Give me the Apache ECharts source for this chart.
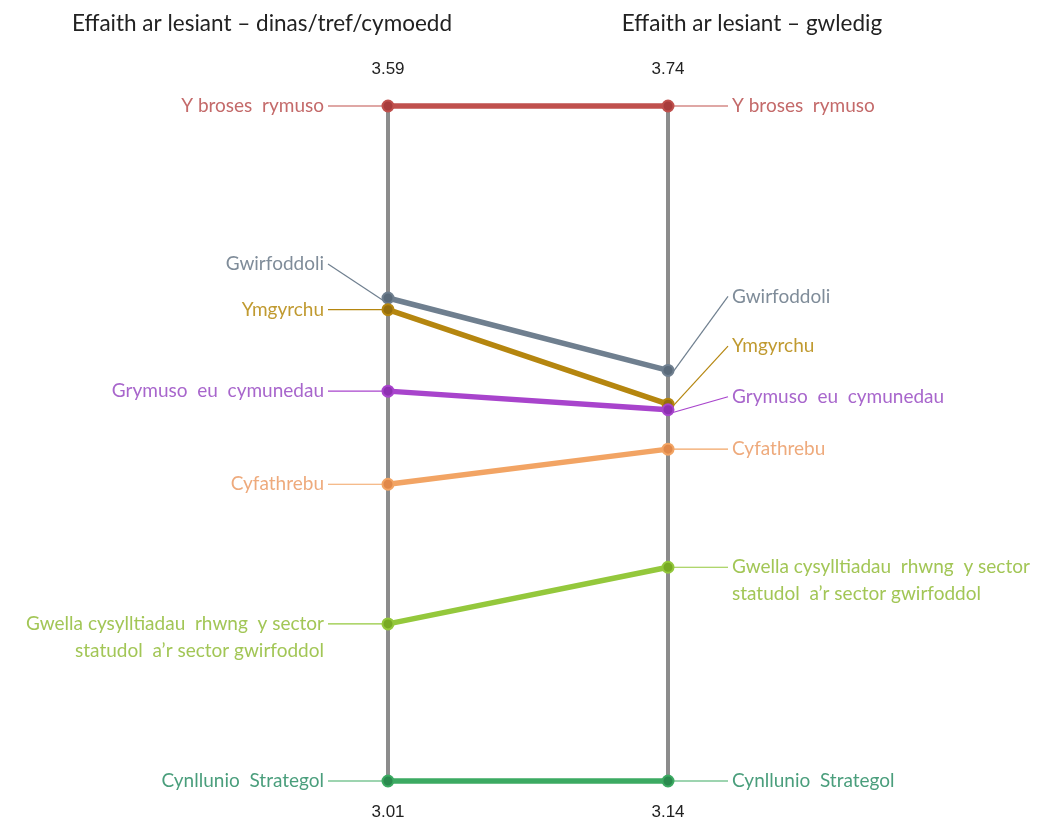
<!DOCTYPE html>
<html>
<head>
<meta charset="utf-8">
<script src="https://cdn.jsdelivr.net/npm/echarts@6/dist/echarts.min.js"></script>
<style>
html,body{margin:0;padding:0;background:#ffffff;}
#main{width:1038px;height:823px;}
</style>
</head>
<body>
<div id="main"></div>
<script>
// ---- data ----
const categories = [
  'Y broses  rymuso',
  'Gwirfoddoli',
  'Ymgyrchu',
  'Grymuso  eu  cymunedau',
  'Cyfathrebu',
  'Gwella cysylltiadau  rhwng  y sector\nstatudol  a\u2019r sector gwirfoddol',
  'Cynllunio  Strategol'
];
const urbanValues = [3.59, 3.425, 3.415, 3.345, 3.265, 3.145, 3.01];
const ruralValues = [3.74, 3.505, 3.475, 3.47, 3.435, 3.33, 3.14];
const axisTitles = ['Effaith ar lesiant \u2013 dinas/tref/cymoedd', 'Effaith ar lesiant \u2013 gwledig'];
const urbanTicks = [3.01, 3.59];
const ruralTicks = [3.14, 3.74];

// ---- styles ----
const lineColors  = ['#c0504d', '#6f7f8f', '#b5860f', '#a844cc', '#f2a464', '#94c83c', '#3caa62'];
const dotColors   = ['#a83c3c', '#5a6a7a', '#956e0c', '#8e30b2', '#e0884a', '#78aa24', '#2a8a4e'];
const labelColors = ['#c46a6a', '#7f8c99', '#c09a30', '#a866cc', '#eeaa7c', '#a2c656', '#4a9e7c'];
const leftLabelDy  = [0, -34, 0, 0, 0, 0, 0];
const rightLabelDy = [0, -74, -58, -13, 0, 0, 0];
const LABEL_FONT = 'Lato, "Open Sans", sans-serif';
const LABEL_SIZE = 19;
const LH = 27;

const chart = echarts.init(document.getElementById('main'));

function yAxisCfg(ticks, pos) {
  const fmt = (v) => v.toFixed(2);
  const numStyle = { color: '#222', fontSize: 17, fontFamily: '"Liberation Sans", Arial, sans-serif' };
  return {
    type: 'value', min: ticks[0], max: ticks[1], position: pos,
    axisLine: { show: true, onZero: false, lineStyle: { color: '#8c8c8c', width: 4 } },
    axisTick: { show: false },
    splitLine: { show: false },
    axisLabel: {
      customValues: ticks,
      margin: 0,
      align: 'center',
      formatter: (v) => (Math.abs(v - ticks[1]) < 1e-9 ? '{t|' + fmt(v) + '}' : '{b|' + fmt(v) + '}'),
      rich: {
        t: Object.assign({ padding: [0, 0, 74, 0] }, numStyle),
        b: Object.assign({ padding: [62, 0, 0, 0] }, numStyle)
      }
    }
  };
}

function sideRenderer(side) {
  return function (params, api) {
    const i = api.value(2);
    const p = api.coord([api.value(0), api.value(1)]);
    const dy = side === 'left' ? leftLabelDy[i] : rightLabelDy[i];
    const ly = p[1] + dy;
    const sgn = side === 'left' ? -1 : 1;
    return {
      type: 'group',
      children: [
        { type: 'line', z2: 1,
          shape: { x1: p[0] + sgn * 60, y1: ly, x2: p[0] + sgn * 4, y2: p[1] - Math.sign(dy) * 3 },
          style: { stroke: lineColors[i], lineWidth: 1.2 } },
        { type: 'text', z2: 2,
          style: { text: categories[i], x: p[0] + sgn * 64, y: ly - LH / 2,
                   align: side === 'left' ? 'right' : 'left', textAlign: side === 'left' ? 'right' : 'left',
                   verticalAlign: 'top', textVerticalAlign: 'top',
                   lineHeight: LH, fill: labelColors[i], fontSize: LABEL_SIZE, fontFamily: LABEL_FONT } },
        { type: 'circle', z2: 3,
          shape: { cx: p[0], cy: p[1], r: 5.5 },
          style: { fill: dotColors[i], stroke: lineColors[i], lineWidth: 2 } }
      ]
    };
  };
}

const option = {
  backgroundColor: '#ffffff',
  animation: false,
  title: [
    { text: axisTitles[0], left: 257, top: 7, textAlign: 'center',
      textStyle: { fontSize: 22.5, fontWeight: 'normal', color: '#222', fontFamily: LABEL_FONT } },
    { text: axisTitles[1], left: 747, top: 7, textAlign: 'center',
      textStyle: { fontSize: 22.5, fontWeight: 'normal', color: '#222', fontFamily: LABEL_FONT } }
  ],
  grid: { left: 388, right: 370, top: 106, bottom: 42, containLabel: false },
  xAxis: { type: 'value', min: 0, max: 1, show: false },
  yAxis: [yAxisCfg(urbanTicks, 'left'), yAxisCfg(ruralTicks, 'right')],
  series: [
    {
      type: 'custom', name: 'connectors', xAxisIndex: 0, yAxisIndex: 0, z: 2,
      data: urbanValues.map((v, i) => [0, v, ruralValues[i], i]),
      encode: { x: 0, y: 1 },
      renderItem: function (params, api) {
        const i = api.value(3);
        const p0 = api.coord([0, api.value(1)]);
        const x1 = api.coord([1, api.value(1)])[0];
        const y1 = chart.convertToPixel({ yAxisIndex: 1 }, api.value(2));
        return { type: 'line', shape: { x1: p0[0], y1: p0[1], x2: x1, y2: y1 },
                 style: { stroke: lineColors[i], lineWidth: 5.5, lineCap: 'round' } };
      }
    },
    {
      type: 'custom', name: 'urban', xAxisIndex: 0, yAxisIndex: 0, z: 3,
      data: urbanValues.map((v, i) => [0, v, i]),
      encode: { x: 0, y: 1 },
      renderItem: sideRenderer('left')
    },
    {
      type: 'custom', name: 'rural', xAxisIndex: 0, yAxisIndex: 1, z: 3,
      data: ruralValues.map((v, i) => [1, v, i]),
      encode: { x: 0, y: 1 },
      renderItem: sideRenderer('right')
    }
  ]
};
chart.setOption(option);
</script>
</body>
</html>
